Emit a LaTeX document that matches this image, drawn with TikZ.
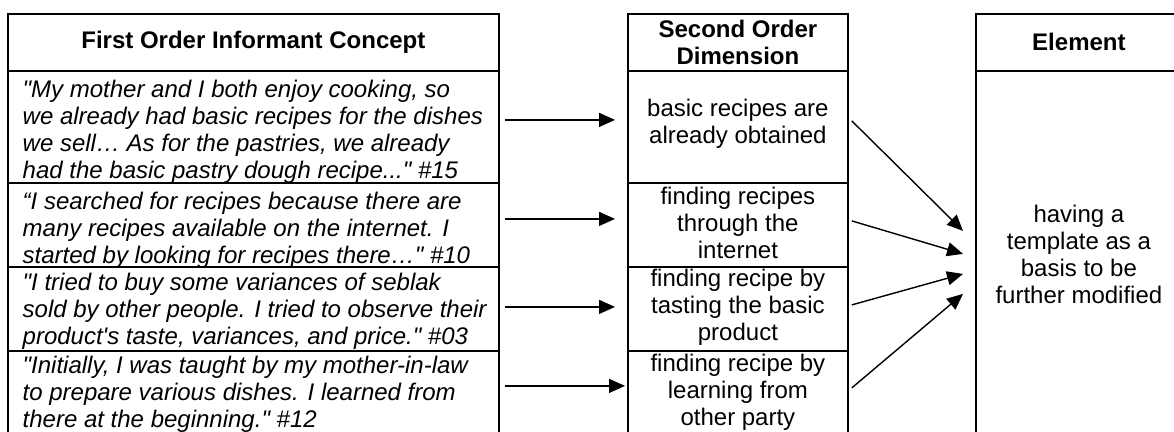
\documentclass[tikz,border=0pt]{standalone}
\usepackage{fontspec}
\setmainfont{Liberation Sans}[Ligatures=TeXOff]
\usetikzlibrary{arrows.meta}
\begin{document}
\begin{tikzpicture}[x=1pt,y=-1pt,
  cell/.style={draw, line width=1.8pt, inner sep=0pt, anchor=north west,
    font=\fontsize{24}{27}\selectfont, align=center},
  label text/.style={inner sep=0pt, align=center, font=\fontsize{24}{27}\selectfont},
  quote/.style={anchor=west, inner sep=0pt, align=left,
    font=\fontsize{24}{27}\selectfont\itshape},
  arr/.style={line width=1.4pt, -{Triangle[length=16pt,width=14pt]}}]
\useasboundingbox (0,0) rectangle (1174,431);
\clip (0,0) rectangle (1174,431);

% first order column
\node[cell, minimum width=491pt, minimum height=57pt] (lh) at (7,13) {\bfseries First Order Informant Concept};
\node[cell, minimum width=491pt, minimum height=112pt] (l1) at (7,70) {};
\node[cell, minimum width=491pt, minimum height=84pt] (l2) at (7,182) {};
\node[cell, minimum width=491pt, minimum height=84pt] (l3) at (7,266) {};
\node[cell, minimum width=491pt, minimum height=85pt] (l4) at (7,350) {};

\node[quote] (q1) at ([shift={(15.5,4.5)}]l1.west) {"My mother and I both enjoy cooking, so\\we already had basic recipes for the dishes\\we sell… As for the pastries, we already\\had the basic pastry dough recipe..." \#15};
\node[quote] (q2) at ([shift={(15.5,5)}]l2.west) {“I searched for recipes because there are\\many recipes available on the internet. I\\started by looking for recipes there…" \#10};
\node[quote] (q3) at ([shift={(15.5,2)}]l3.west) {"I tried to buy some variances of seblak\\sold by other people. I tried to observe their\\product's taste, variances, and price." \#03};
\node[quote] (q4) at ([shift={(15.5,0.5)}]l4.west) {"Initially, I was taught by my mother-in-law\\to prepare various dishes. I learned from\\there at the beginning." \#12};

% second order column
\node[cell, minimum width=220pt, minimum height=57pt] (mh) at (627,13) {\bfseries Second Order\\\bfseries Dimension};
\node[cell, minimum width=220pt, minimum height=112pt] (m1) at (627,70) {};
\node[cell, minimum width=220pt, minimum height=84pt] (m2) at (627,182) {};
\node[cell, minimum width=220pt, minimum height=84pt] (m3) at (627,266) {};
\node[cell, minimum width=220pt, minimum height=85pt] (m4) at (627,350) {};

\node[label text] (d1) at ([yshift=3pt]m1.center) {basic recipes are\\already obtained};
\node[label text] (d2) at ([yshift=1.5pt]m2.center) {finding recipes\\through the\\internet};
\node[label text] (d3) at ([yshift=1.5pt]m3.center) {finding recipe by\\tasting the basic\\product};
\node[label text] (d4) at ([yshift=1pt]m4.center) {finding recipe by\\learning from\\other party};

% element column
\node[cell, minimum width=206pt, minimum height=57pt] (eh) at (975,13) {\bfseries Element};
\node[cell, minimum width=206pt, minimum height=367pt] (e) at (975,70) {having a\\template as a\\basis to be\\further modified};

% informant concepts to dimensions
\draw[arr] ([shift={(5,-7)}]l1.east) -- ([shift={(-12,-7)}]m1.west);
\draw[arr] ([shift={(5,-6)}]l2.east) -- ([shift={(-12,-6)}]m2.west);
\draw[arr] ([shift={(5,-2)}]l3.east) -- ([shift={(-12,-2)}]m3.west);
\draw[arr] ([shift={(5,-7.5)}]l4.east) -- ([shift={(-2,-7.5)}]m4.west);

% dimensions to element
\draw[arr] ([shift={(3,-6)}]m1.east) -- ([shift={(-12,-23.5)}]e.west);
\draw[arr] ([shift={(3,-4)}]m2.east) -- ([shift={(-12,-0.5)}]e.west);
\draw[arr] ([shift={(3,-4)}]m3.east) -- ([shift={(-12,19.5)}]e.west);
\draw[arr] ([shift={(3,-5.5)}]m4.east) -- ([shift={(-12,39.5)}]e.west);
\end{tikzpicture}
\end{document}
